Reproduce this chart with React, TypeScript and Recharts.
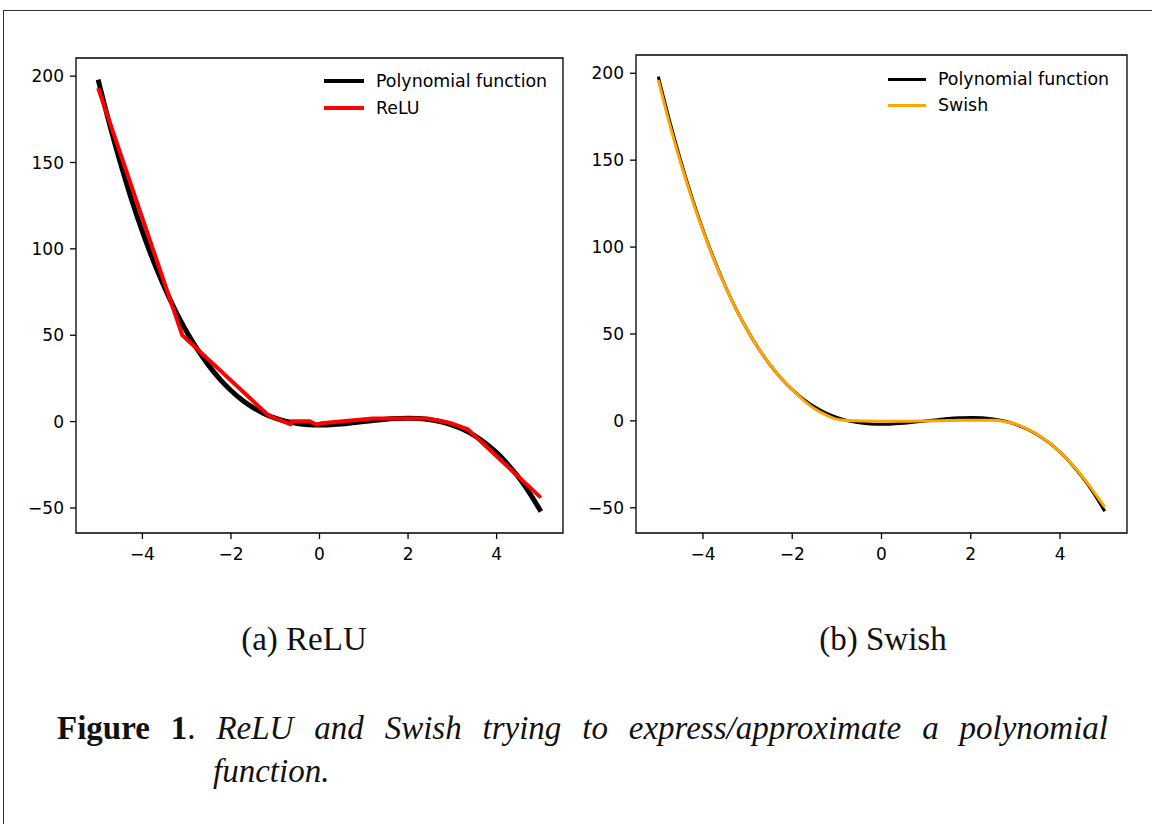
import { LineChart, Line, XAxis, YAxis, ReferenceArea } from "recharts";

// polynomial at x steps of 0.25
const polyX = [
  -5, -4.75, -4.5, -4.25, -4, -3.75, -3.5, -3.25, -3, -2.75, -2.5, -2.25, -2, -1.75, -1.5, -1.25, -1, -0.75, -0.5, -0.25,
  0, 0.25, 0.5, 0.75, 1, 1.25, 1.5, 1.75, 2, 2.25, 2.5, 2.75, 3, 3.25, 3.5, 3.75, 4, 4.25, 4.5, 4.75, 5,
];
const polyY = [
  198, 172.9, 149.9, 128.9, 110, 92.9, 77.6, 64, 52, 41.5, 32.4, 24.6, 18, 12.5, 8.1, 4.6, 2, 0.1, -1.1, -1.8,
  -2, -1.8, -1.4, -0.7, 0, 0.7, 1.4, 1.8, 2, 1.8, 1.1, -0.1, -2, -4.6, -8.1, -12.5, -18, -24.6, -32.4, -41.5, -52,
];
const swishY = [
  196, 171, 148.5, 128, 109.5, 92.5, 77.5, 64, 52, 41.5, 32.5, 24.5, 18, 12, 7, 3.5, 1, 0.2, 0, -0.1,
  -0.2, -0.2, -0.2, -0.1, 0, 0.1, 0.2, 0.3, 0.3, 0.4, 0.3, -0.3, -1.8, -4.5, -8, -12.5, -18, -24.5, -32, -40.5, -49.5,
];

// ReLU network output: kinks
const reluX = [-5, -3.1, -1.15, -0.66, -0.62, -0.22, -0.06, 0.04, 1.2, 2.45, 2.95, 3.35, 5];
const reluY = [193, 50, 3.5, -1.5, 0.2, 0.2, -1.8, -1.0, 1.8, 1.8, -0.8, -4.5, -44];

const xTicks = [-4, -2, 0, 2, 4];
const yTicks = [-50, 0, 50, 100, 150, 200];
const xDomain = [-5.5, 5.5];
const yDomain = [-64.5, 210.5];

const polyData = polyX.map((x, i) => ({ x, y: polyY[i] }));
const swishData = polyX.map((x, i) => ({ x, y: swishY[i] }));
const reluData = reluX.map((x, i) => ({ x, y: reluY[i] }));

const tickFont = { fontFamily: "DejaVu Sans", fontSize: 17, fill: "#000" };
const fmt = (v: number) => (v < 0 ? "\u2212" + Math.abs(v) : String(v));

function Panel({ left, marginTop, marginRight, second, secondColor, secondWidth, polyWidth, smooth }: any) {
  return (
    <div style={{ position: "absolute", left, top: 0 }}>
      <LineChart width={600} height={580} margin={{ top: marginTop, right: marginRight, bottom: 17, left: 16 }}>
        <XAxis
          type="number"
          dataKey="x"
          domain={xDomain}
          ticks={xTicks}
          tickFormatter={fmt}
          allowDataOverflow
          axisLine={false}
          tickSize={6}
          tickMargin={9}
          tick={tickFont}
          tickLine={{ stroke: "#000", strokeWidth: 1.3 }}
          height={30}
        />
        <YAxis
          type="number"
          domain={yDomain}
          ticks={yTicks}
          tickFormatter={fmt}
          allowDataOverflow
          axisLine={false}
          tickSize={6}
          tickMargin={6}
          tick={tickFont}
          tickLine={{ stroke: "#000", strokeWidth: 1.3 }}
          width={60}
        />
        <ReferenceArea x1={xDomain[0]} x2={xDomain[1]} y1={yDomain[0]} y2={yDomain[1]} fill="none" stroke="#000" strokeWidth={1.3} />
        <Line data={polyData} dataKey="y" type="monotone" stroke="#000" strokeWidth={polyWidth} dot={false} isAnimationActive={false} />
        <Line data={second} dataKey="y" type={smooth ? "monotone" : "linear"} stroke={secondColor} strokeWidth={secondWidth} dot={false} isAnimationActive={false} />
      </LineChart>
    </div>
  );
}

function LegendBox({ left, top, gap, sampleW, lineW, items }: any) {
  return (
    <div style={{ position: "absolute", left, top, fontFamily: "DejaVu Sans", fontSize: 17.4, color: "#000" }}>
      {items.map((it: any, i: number) => (
        <div key={i} style={{ display: "flex", alignItems: "center", height: gap }}>
          <div style={{ width: sampleW, height: lineW, background: it.color, marginRight: 12 }} />
          <span style={{ lineHeight: "20px" }}>{it.label}</span>
        </div>
      ))}
    </div>
  );
}

const serif = { fontFamily: "Liberation Serif", fontSize: 33, lineHeight: "33px", color: "#111" };

export default function App() {
  return (
    <div style={{ position: "absolute", left: 0, top: 0, width: 1152, height: 824, overflow: "hidden", background: "#fff" }}>
      <div style={{ position: "absolute", left: 3, top: 10, width: 1300, height: 1000, border: "1.5px solid #333" }} />
      <Panel left={0} marginTop={58} marginRight={37} second={reluData} secondColor="#ff0000" secondWidth={4} polyWidth={5} smooth={false} />
      <Panel left={560} marginTop={55} marginRight={33} second={swishData} secondColor="#ffa500" secondWidth={3} polyWidth={3} smooth />
      <LegendBox
        left={324}
        top={68}
        gap={26.7}
        sampleW={40}
        lineW={4}
        items={[
          { label: "Polynomial function", color: "#000" },
          { label: "ReLU", color: "#ff0000" },
        ]}
      />
      <LegendBox
        left={888}
        top={66}
        gap={26}
        sampleW={38}
        lineW={3}
        items={[
          { label: "Polynomial function", color: "#000" },
          { label: "Swish", color: "#ffa500" },
        ]}
      />
      <div style={{ ...serif, position: "absolute", left: 204, top: 623, width: 200, textAlign: "center" }}>(a) ReLU</div>
      <div style={{ ...serif, position: "absolute", left: 783, top: 623, width: 200, textAlign: "center" }}>(b) Swish</div>
      <div style={{ ...serif, position: "absolute", left: 57, top: 712, width: 1051, textAlign: "justify", textAlignLast: "justify" }}>
        <b>Figure 1</b>. <i>ReLU and Swish trying to express/approximate a polynomial</i>
      </div>
      <div style={{ ...serif, position: "absolute", left: 213, top: 755 }}>
        <i>function.</i>
      </div>
    </div>
  );
}
